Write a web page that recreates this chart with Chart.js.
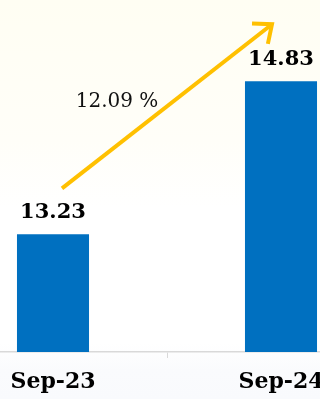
<!DOCTYPE html>
<html>
<head>
<meta charset="utf-8">
<script src="https://cdn.jsdelivr.net/npm/chart.js@4"></script>
<style>
  html, body { margin: 0; padding: 0; width: 320px; height: 399px; overflow: hidden; }
  body { background: linear-gradient(to bottom, #fffef3 0%, #fffef8 35%, #ffffff 52%, #ffffff 86%, #fafbfd 93%, #f9fafd 100%); position: relative; }
  #wrap { position: absolute; left: -61px; top: 0; width: 456px; height: 399px; }
</style>
</head>
<body>
<div id="wrap"><canvas id="growthChart" width="456" height="399"></canvas></div>
<script>
// periods and values
const periods = ['Sep-23', 'Sep-24'];
const values = [13.23, 14.83];
const axisMin = 12;
const axisMax = 15;

const growth = (values[1] - values[0]) / values[0] * 100;

// value labels, growth arrow and percentage text
const overlayPlugin = {
    id: 'overlay',
    afterDatasetsDraw(chart) {
        const ctx = chart.ctx;
        const bars = chart.getDatasetMeta(0).data;
        ctx.save();
        ctx.fillStyle = '#000';
        ctx.font = 'bold 21px "DejaVu Serif"';
        ctx.textAlign = 'center';
        ctx.textBaseline = 'alphabetic';
        bars.forEach(function (bar, i) {
            ctx.fillText(values[i].toFixed(2), bar.x, bar.y - 16);
        });

        // arrow from first label to above the second
        const x1 = bars[0].x + 9, y1 = bars[0].y - 46;
        const x2 = bars[1].x - 9, y2 = bars[1].y - 57;
        ctx.strokeStyle = '#ffc000';
        ctx.lineWidth = 4;
        ctx.lineCap = 'butt';
        ctx.beginPath();
        ctx.moveTo(x1, y1);
        ctx.lineTo(x2, y2);
        ctx.stroke();
        const ang = Math.atan2(y2 - y1, x2 - x1);
        const head = 20, spread = 0.7;
        ctx.lineJoin = 'miter';
        ctx.beginPath();
        ctx.moveTo(x2 - head * Math.cos(ang - spread), y2 - head * Math.sin(ang - spread));
        ctx.lineTo(x2, y2);
        ctx.lineTo(x2 - head * Math.cos(ang + spread), y2 - head * Math.sin(ang + spread));
        ctx.stroke();

        ctx.fillStyle = '#111';
        ctx.font = '20px "DejaVu Serif"';
        ctx.fillText(growth.toFixed(2) + ' %', (x1 + x2) / 2 - 50, (y1 + y2) / 2 + 1);
        ctx.restore();
    }
};

const ctx = document.getElementById('growthChart').getContext('2d');
new Chart(ctx, {
    type: 'bar',
    data: {
        labels: periods,
        datasets: [{
            data: values,
            backgroundColor: '#0070c0',
            categoryPercentage: 1,
            barPercentage: 0.316
        }]
    },
    options: {
        responsive: false,
        animation: false,
        layout: { padding: { top: 65, left: 0, right: 0, bottom: 0 } },
        plugins: {
            legend: { display: false },
            tooltip: { enabled: false }
        },
        scales: {
            x: {
                afterFit: function (scale) { scale.height = 47; },
                grid: {
                    drawOnChartArea: false,
                    tickLength: 6,
                    color: '#d9d9d9'
                },
                border: { display: true, color: '#d9d9d9', width: 1.5 },
                ticks: {
                    color: '#000',
                    padding: 11,
                    font: { family: 'DejaVu Serif', weight: 'bold', size: 22 }
                }
            },
            y: {
                display: false,
                min: axisMin,
                max: axisMax
            }
        }
    },
    plugins: [overlayPlugin]
});
</script>
</body>
</html>
